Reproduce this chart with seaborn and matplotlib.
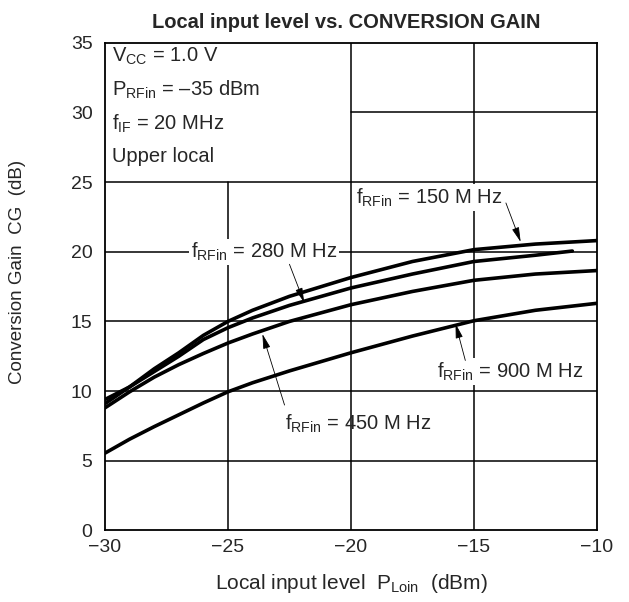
import pandas as pd
import matplotlib
matplotlib.use("Agg")
import matplotlib.pyplot as plt
import seaborn as sns

# Curve data
x_150 = [-30, -29, -28, -27, -26, -25, -24, -22.5, -20, -17.5, -15, -12.5, -10]
cg_150 = [9.1, 10.3, 11.6, 12.75, 14.0, 15.0, 15.8, 16.8, 18.15, 19.3, 20.15, 20.55, 20.8]

x_280 = [-30, -29, -28, -27, -26, -25, -24, -22.5, -20, -17.5, -15, -12.5, -11]
cg_280 = [9.4, 10.3, 11.4, 12.5, 13.7, 14.55, 15.25, 16.15, 17.4, 18.4, 19.3, 19.75, 20.05]

x_450 = [-30, -29, -28, -27, -26, -25, -24, -22.5, -20, -17.5, -15, -12.5, -10]
cg_450 = [8.8, 9.95, 11.0, 11.9, 12.7, 13.45, 14.1, 15.0, 16.2, 17.15, 17.95, 18.4, 18.65]

x_900 = [-30, -29, -28, -27, -26, -25, -24, -22.5, -20, -17.5, -15, -12.5, -10]
cg_900 = [5.55, 6.55, 7.45, 8.3, 9.15, 9.95, 10.6, 11.45, 12.75, 13.95, 15.05, 15.8, 16.3]

x_ticks = [-30, -25, -20, -15, -10]
y_ticks = [0, 5, 10, 15, 20, 25, 30, 35]

frames = []
for name, xs, ys in [("150", x_150, cg_150), ("280", x_280, cg_280),
                     ("450", x_450, cg_450), ("900", x_900, cg_900)]:
    frames.append(pd.DataFrame({"PLoin": xs, "CG": ys, "freq": name}))
df = pd.concat(frames, ignore_index=True)

sns.set_style("white")
plt.rcParams["font.family"] = ["Liberation Sans", "DejaVu Sans"]
plt.rcParams["mathtext.fontset"] = "custom"
plt.rcParams["mathtext.rm"] = "Liberation Sans"

fig = plt.figure(figsize=(6.29, 6.02), dpi=100)
ax = fig.add_axes([0.1669, 0.1188, 0.7821, 0.8103])

# grid drawn by hand so the condition box area stays clear
gkw = dict(color="black", lw=1.1, zorder=1)
for yv in [5, 10, 15, 20, 25]:
    ax.axhline(yv, **gkw)
ax.axhline(30, xmin=0.5, xmax=1, **gkw)
ax.axvline(-25, ymin=0, ymax=25 / 35, **gkw)
ax.axvline(-20, **gkw)
ax.axvline(-15, **gkw)

sns.lineplot(data=df, x="PLoin", y="CG", hue="freq", units="freq",
             estimator=None, sort=False, legend=False,
             palette={"150": "black", "280": "black", "450": "black", "900": "black"},
             lw=2.6, ax=ax, zorder=3)

ax.set_xlim(-30, -10)
ax.set_ylim(0, 35)
ax.set_xticks(x_ticks)
ax.set_yticks(y_ticks)
ax.tick_params(axis="y", length=0, labelsize=14, pad=9)
ax.tick_params(axis="x", length=0, labelsize=14, pad=6)
for s in ax.spines.values():
    s.set_color("black")
    s.set_linewidth(1.3)
    s.set_zorder(5)

fig.text(0.55, 0.963, "Local input level vs. CONVERSION GAIN", fontsize=14.5,
         fontweight="bold", ha="center", va="center")
ax.set_xlabel(r"Local input level  P$_{\mathregular{Loin}}$  (dBm)", fontsize=15, labelpad=12)
ax.set_ylabel("Conversion Gain  CG  (dB)", fontsize=13.5)
ax.yaxis.set_label_coords(-0.16, 0.53)

# operating conditions
fs = 14.5
cond = [r"V$_{\mathregular{CC}}$ = 1.0 V",
        r"P$_{\mathregular{RFin}}$ = –35 dBm",
        r"f$_{\mathregular{IF}}$ = 20 MHz",
        "Upper local"]
for i, t in enumerate(cond):
    ax.text(-29.7, 34.0 - i * 2.4, t, fontsize=fs, va="center", ha="left", zorder=6)

bbox_w = dict(facecolor="white", edgecolor="none", pad=1.5)
akw = dict(arrowstyle="-|>,head_length=0.9,head_width=0.22", color="black",
           lw=0.6, shrinkA=0, shrinkB=0)

ax.text(-19.8, 23.9, r"f$_{\mathregular{RFin}}$ = 150 M Hz", fontsize=fs,
        va="center", ha="left", bbox=bbox_w, zorder=4)
ax.annotate("", xy=(-13.1, 20.7), xytext=(-13.7, 23.5), arrowprops=akw, zorder=6)

ax.text(-26.5, 20, r"f$_{\mathregular{RFin}}$ = 280 M Hz", fontsize=fs,
        va="center", ha="left", bbox=bbox_w, zorder=4)
ax.annotate("", xy=(-21.9, 16.35), xytext=(-22.5, 19.1), arrowprops=akw, zorder=6)

ax.text(-22.7, 7.65, r"f$_{\mathregular{RFin}}$ = 450 M Hz", fontsize=fs,
        va="center", ha="left", zorder=4)
ax.annotate("", xy=(-23.6, 14.1), xytext=(-22.7, 9.0), arrowprops=akw, zorder=6)

ax.text(-16.5, 11.4, r"f$_{\mathregular{RFin}}$ = 900 M Hz", fontsize=fs,
        va="center", ha="left", bbox=bbox_w, zorder=4)
ax.annotate("", xy=(-15.75, 14.85), xytext=(-15.35, 12.2), arrowprops=akw, zorder=6)

fig.savefig("out.png", dpi=100)
